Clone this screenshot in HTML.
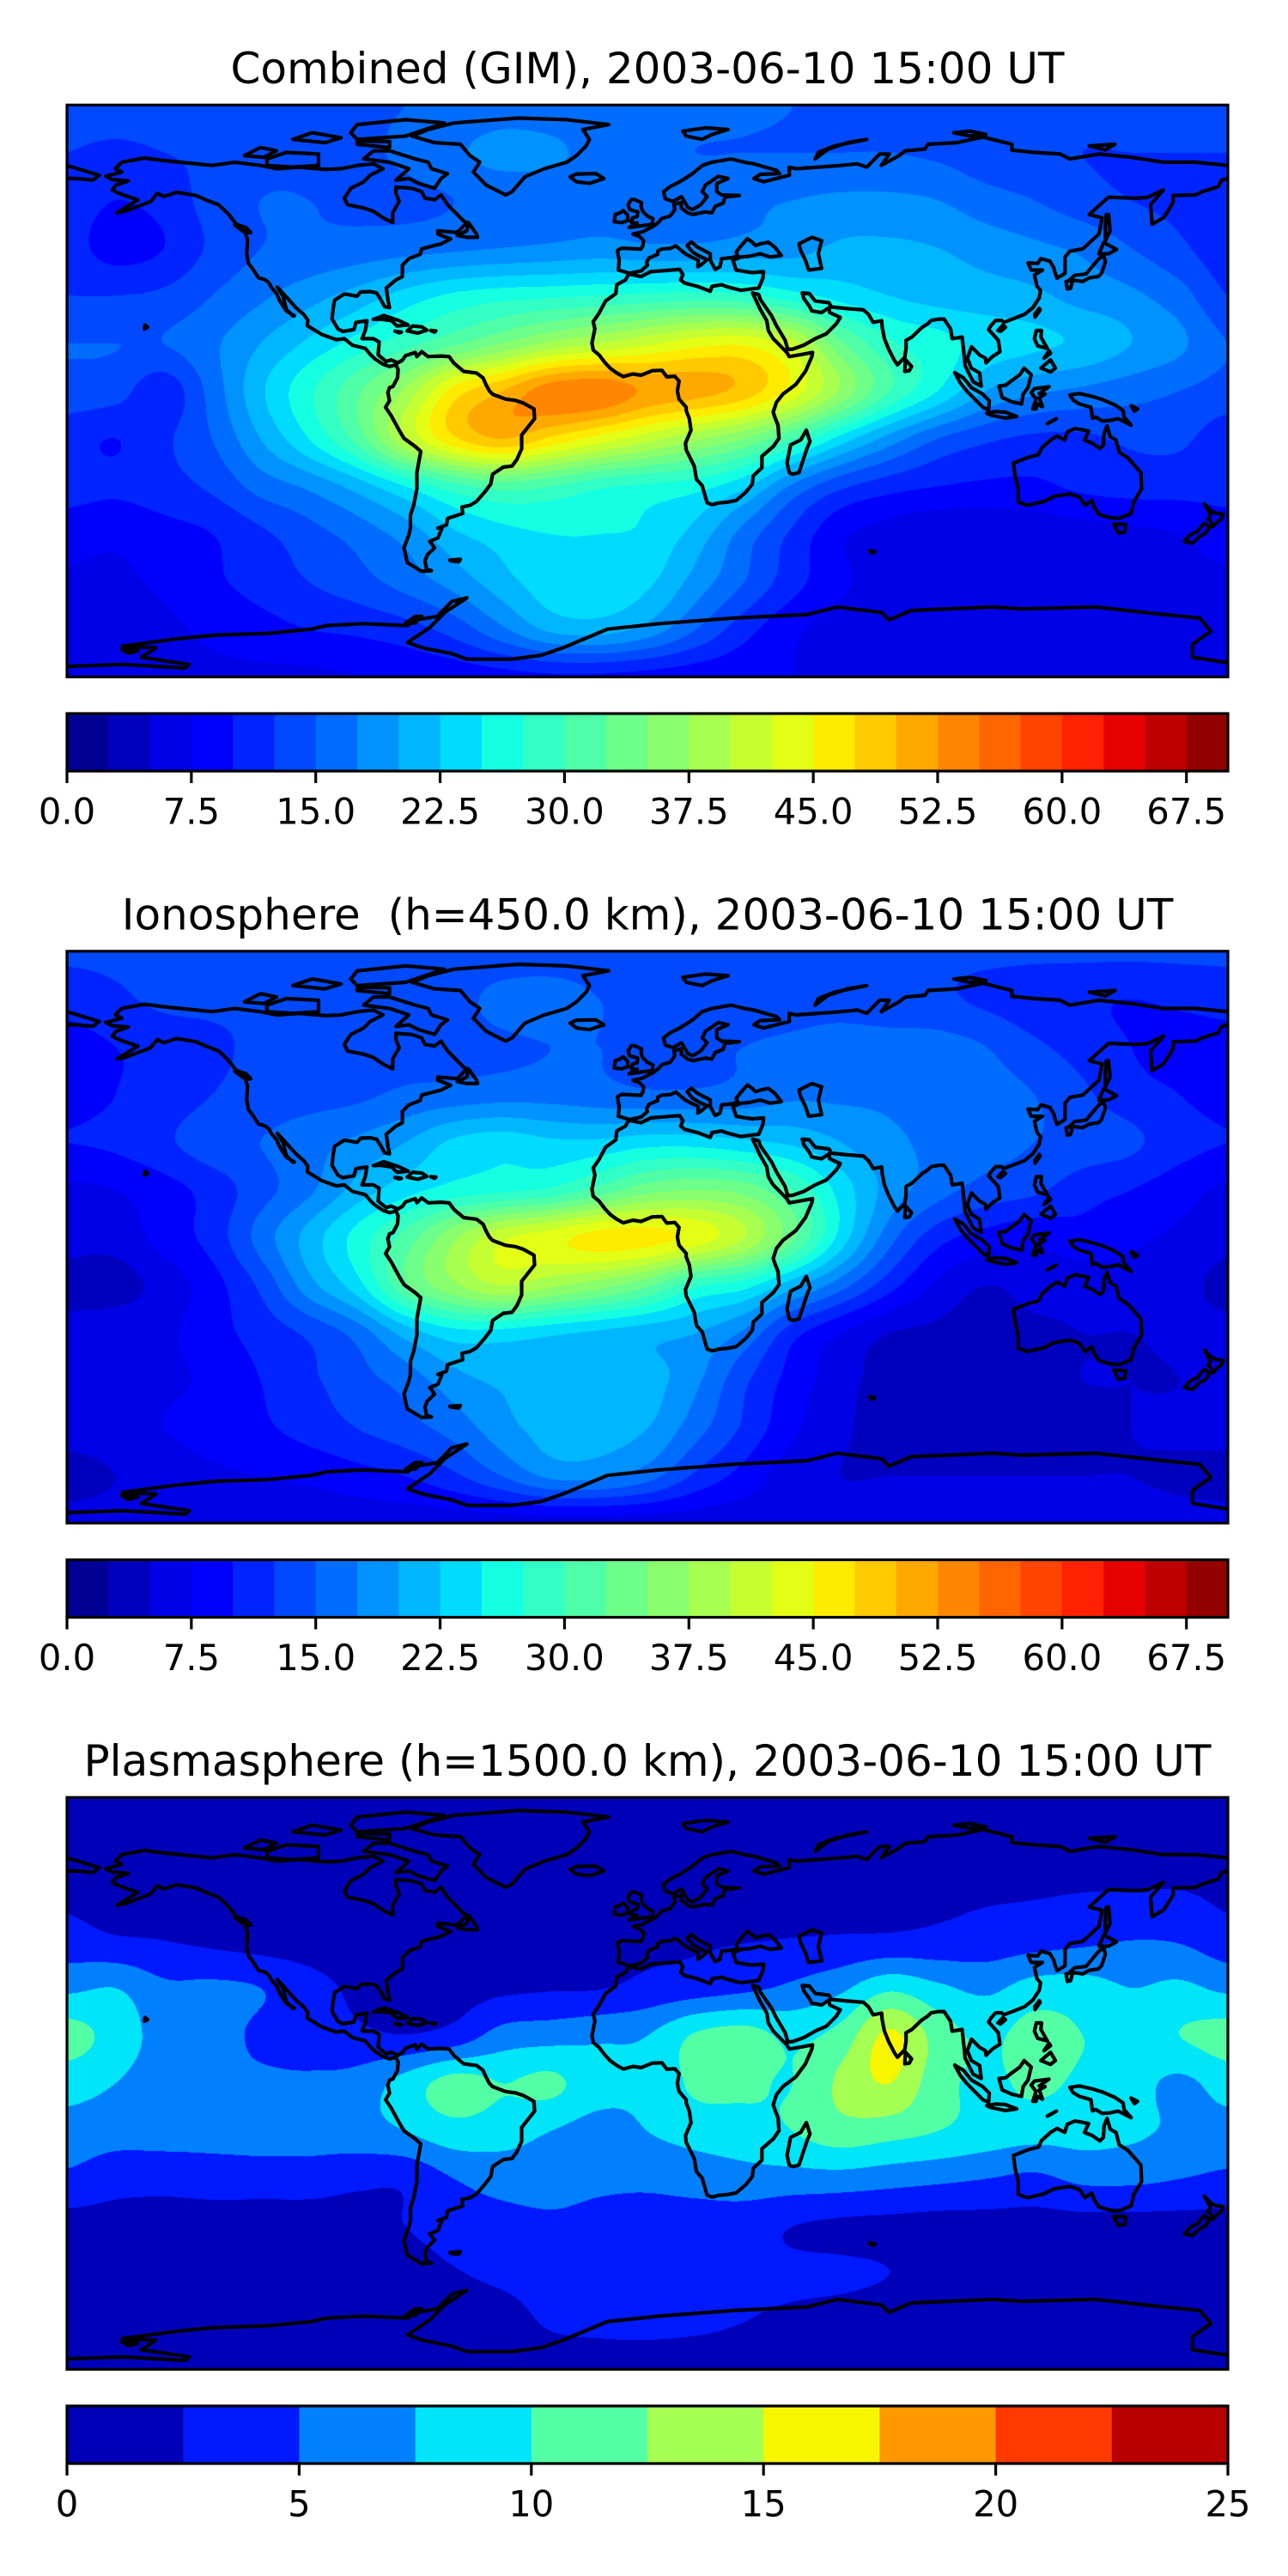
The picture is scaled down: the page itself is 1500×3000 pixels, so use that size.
<!DOCTYPE html>
<html><head><meta charset="utf-8">
<style>
html,body{margin:0;padding:0;background:#fff;}
body{width:1500px;height:3000px;position:relative;overflow:hidden;font-family:"DejaVu Sans","Liberation Sans",sans-serif;}
canvas{position:absolute;}
#overlay{position:absolute;left:0;top:0;}
</style></head>
<body>
<canvas id="c0" width="1352" height="666" style="left:78px;top:122.3px"></canvas>
<canvas id="c1" width="1352" height="666" style="left:78px;top:1107.8px"></canvas>
<canvas id="c2" width="1352" height="666" style="left:78px;top:2093.3px"></canvas>
<svg id="overlay" width="1500" height="3000" xmlns="http://www.w3.org/2000/svg"></svg>
<script>
// ---------- data ----------
const gridLons=[-180,-165,-150,-135,-120,-105,-90,-75,-60,-45,-30,-15,0,15,30,45,60,75,90,105,120,135,150,165,180];
const gridLats=[87.5,72.9,58.3,43.8,29.2,14.6,0,-14.6,-29.2,-43.8,-58.3,-72.9,-87.5];
const gimValues=[
[13.5,13.5,13.5,13.5,13.5,14,14.5,15,15.5,16,16,16,16,16,15.5,15,14.5,14,13.5,13.5,13.5,13.5,13.5,13.5,13.5],
[12.5,12,12.5,13,14,14.5,14.5,15.5,17,18.5,18,16.5,15.5,15,15,15,15,15,14.5,13.5,13,12.5,12.5,12.5,12.5],
[11.5,10,11,13.5,15,15,14.5,14.5,15,15.5,16,16.5,16,16.5,17,17.5,18,18,17.5,16,15,13.5,12.5,12,11.5],
[11,9,10,13,15,15.5,16,16.5,17,17.5,18,18.5,18,18,18.5,19,20.5,20.5,20,19,18,17,15,13,11],
[12.5,12.5,13,15,17,19,21,23.5,25.5,26.5,27,27.5,28,28.5,28,26,24,22.5,21.5,21,20.5,19,18,16,12.5],
[15,15,15,17,20,23,26,29,32,35,38,40,42,44,44.5,41,33,28,26,24,23,22,20,18,15],
[14,13.5,11,16,22,27,32,38,46,50,54,54.5,52,51,49,44,37,30,25,20,18,17,16,15,14],
[11,10,12,15,20,25,31,40,47,50,47,44,41,38,35,30,24,19,15,13,12,12,13,13,11],
[11,10.5,11.5,13,16,18,21,25,29,31,30,28,27,26,23,17,13,11,10,9.5,9.5,10.5,11,11,11],
[8.5,8,9,10,12,14,16,18.5,22,24,25,25,24.5,21.5,16.5,12,8,6.5,5.5,5.5,6,6.5,7,7.5,8.5],
[7,7,8,9.5,11,12.5,14,16,18.5,21.5,24,24.5,23,19,15,11,8,6.5,6,6,6.5,7,7,7,7],
[5.5,6,7,8,9,10,10.5,11.5,13.5,17,20.5,21,19,15,11,8,6.5,6,6,6,6,6,6,5.5,5.5],
[7,7,7,7,7,7,7.5,8,8.5,9,9.5,9.5,9,8.5,8,7.5,7,6.5,6.5,6.5,6.5,6.5,6.5,6.5,7]];
const ionoValues=[
[13,13,13,13,13,13,13,13,13,13,13,13,13,13,13,13,13,13,13,13,13,13,13,13,13],
[11,12,13,13,13,14,14,14,14,16,16.5,15,14,14,14,14,14,13.5,13,12,11,10.5,10,10.5,11],
[9,10,11,12,13,13.5,14,14,14,14.5,15,15,14,14.5,15,15.5,16,16,16,15,13,11.5,10,9,9],
[9,10,11,12.5,13.5,14,14.5,15.5,16,16.5,16.5,16,15.5,15.5,16,17,17,17,16.5,16,15,13,11,10,9],
[10,10.5,12,14,15,16.5,18,20,23,24,23,23,24,24,23,22,20,18,17,16,15,14,13,11,10],
[7,7.5,9,11,14,17,21,24,26,27,28,31,34,35,34,30,24,19,16,14,13,11,10,8.5,7],
[6,6,8.5,11,16,21,26,31,37,42,44,46,46,44,40,33,24,16,11,9,8,9,8,7,6],
[4,4,6,9,13,19,24,32,37,40,38,36,33,28,26,21,16,11,7,5,6,6,6.5,6,4],
[6,6.5,7,9,11,13,16,21,24,24,23,22,21,20,17,11,7.5,5,4.5,4,4.5,5,5,5.5,6],
[6,6,7,8,10,12,14,16,19,20.5,21,21,21,18,13,9,6,4,4,4.5,4.5,5,5,5,6],
[6,6.5,7.5,8.5,9.5,11,12.5,14,16,19,21,21,20,16,12,8,5.5,4,4,4,4.5,4.5,5,5.5,6],
[4,5,6,7,7.5,8,9,10,12,15,18,18,16,12,9,6,5,5,5,5,5,5,5,4.5,4],
[6,6,6,6,6,6,6,6,6,6,6,6,6,6,6,6,6,6,6,6,6,6,6,6,6]];
const plasmaValues=[
[1,1,1,1,1,1,1,1,1,1,1,1,1,1,1,1,1,1,1,1,1,1,1,1,1],
[1.2,1.2,1.2,1.2,1.2,1.2,1.2,1.2,1.2,1.2,1.2,1.2,1.2,1.2,1.2,1.2,1.2,1.2,1.2,1.2,1.2,1.2,1.2,1.2,1.2],
[2,1.5,1.3,1.2,1.2,1.2,1.2,1.2,1.2,1.2,1.2,1.2,1.2,1.2,1.3,1.5,1.7,1.8,2,2.2,2.3,2.5,2.6,2.6,2],
[3.5,2.8,2.5,2,1.5,1.2,1,1,1,1.2,1.5,1.8,2,2.2,2.4,2.6,2.8,3,3.2,3.5,4,4.5,5,4.8,3.5],
[7,7.5,5.5,5.5,5,3.5,2,1.5,1.5,2,2.3,2.4,3.2,3.8,4.5,5.5,7,9.5,8,7,8.5,8.5,7.5,8,7],
[11,9,6.5,6,4.5,3.5,3,2.6,3.5,6,6.5,7,7.5,10.3,11,9.5,11,15.5,11.5,9.5,11,10,9,10,11],
[8.5,7.5,6,5.5,5.5,5.5,6,8.5,11,10,10.5,8.5,8,10.5,10.5,10,13,15,11,9.5,10.5,9.5,8.5,7,8.5],
[6.5,6,6,6,6.3,6.3,6.5,7.5,9,8.5,7.5,6.5,7.5,8.5,9,10,11.5,11,10,9,8.5,8.5,8,7,6.5],
[4.5,3.5,3.3,3.5,3.5,3.5,3,3,5,6,6,5.5,5.5,6,6.5,6.5,6.5,6,5.5,5,4.5,5.5,5.5,5,4.5],
[1.5,1.5,1.5,1.5,1.5,1.5,1.8,2.5,3.5,4,4.5,4.2,4,3.8,3.5,2.5,2,1.8,1.5,1.5,1.5,1.5,1.5,1.5,1.5],
[1.2,1.2,1.2,1.2,1.2,1.2,1.2,1.5,2.3,3,3.5,3.5,3.4,3.2,3,3,3,2.5,1.5,1.2,1.2,1.2,1.2,1.2,1.2],
[1,1,1,1,1,1,1,1,1,1.5,2.8,3.2,3.3,3,2.5,2,1.5,1,1,1,1,1,1,1,1],
[1,1,1,1,1,1,1,1,1,1,1,1,1,1,1,1,1,1,1,1,1,1,1,1,1]];
const tecLevels=[0,2.5,5,7.5,10,12.5,15,17.5,20,22.5,25,27.5,30,32.5,35,37.5,40,42.5,45,47.5,50,52.5,55,57.5,60,62.5,65,67.5,70];
const plasmaLevels=[0,2.5,5,7.5,10,12.5,15,17.5,20,22.5,25];
const tecTicks=[0,7.5,15,22.5,30,37.5,45,52.5,60,67.5];
const tecTickLabels=["0.0","7.5","15.0","22.5","30.0","37.5","45.0","52.5","60.0","67.5"];
const plasmaTicks=[0,5,10,15,20,25];
const plasmaTickLabels=["0","5","10","15","20","25"];
const titles=["Combined (GIM), 2003-06-10 15:00 UT","Ionosphere  (h=450.0 km), 2003-06-10 15:00 UT","Plasmasphere (h=1500.0 km), 2003-06-10 15:00 UT"];

// coastlines (lon,lat)
const coasts=[
[[-165,68],[-163,70],[-156,71.3],[-150,70.5],[-141,69.6],[-135,69],[-128,70],[-120,69],[-115,68],[-108,68.5],[-100,67.8],[-95,68],[-90,69],[-85,69.5],[-82,68],[-86,66],[-88,64],[-92,62],[-94,59],[-93,57],[-88,56],[-85,55],[-82,53],[-79,51.5],[-79,54.5],[-77,58],[-78,60.5],[-78,62.4],[-73,62],[-70,61],[-69,59],[-66,58.5],[-64,60],[-62,57],[-60,55],[-57,52],[-56,51.5],[-59,48.5],[-65,49],[-65,48],[-61,46.5],[-64,45],[-66,44.5],[-70,43.5],[-70.5,41.8],[-74,40.5],[-76,38.5],[-76,35],[-78,34],[-81,31.5],[-80.5,28],[-80,25.5],[-81.5,25.8],[-82.7,28],[-84,30],[-86,30.4],[-89,30.3],[-90,29],[-94,29.7],[-97,27.8],[-97.5,25],[-97.8,22],[-96,19],[-94.5,18.2],[-91,18.8],[-90.4,21],[-87,21.5],[-87.5,18.5],[-88.5,16],[-85,16],[-83.2,15],[-83.5,11],[-81,9],[-79.5,9.5],[-77.4,8.6],[-76,9.4],[-75,10.8],[-72,11.8],[-71.5,10.5],[-70,12],[-68,10.5],[-64,10.7],[-61.5,10.5],[-60,8.5],[-57,6],[-53,5.5],[-51,4],[-50,1.8],[-49,0],[-48,-1],[-44,-2.5],[-41,-2.9],[-38.5,-3.7],[-35.2,-5.5],[-35,-8.5],[-37,-11],[-39,-13.5],[-39,-17.7],[-40.5,-21],[-42,-23],[-44.7,-23.3],[-48,-25.5],[-48.6,-28.5],[-50.5,-31],[-53,-33.8],[-55,-35],[-57.5,-35.5],[-57.3,-37.5],[-62,-39],[-62.3,-41],[-65,-42],[-63.8,-42.2],[-65,-45],[-67.5,-46],[-66,-48],[-68.3,-50.2],[-69,-52],[-68.5,-54.5],[-67,-55],[-70,-55.2],[-72,-54],[-74.5,-52.5],[-75.5,-48],[-74,-44],[-73.5,-42],[-73.5,-38],[-72.5,-35],[-71.5,-30],[-71.5,-25],[-70.3,-18.5],[-72,-17],[-75.5,-14.5],[-77,-12],[-79.5,-7.5],[-81.2,-5],[-80,-3],[-80.5,-0.5],[-80,1],[-78.9,1.4],[-77.5,4],[-77.3,6.5],[-78,8],[-80,7.5],[-82,8.2],[-84.5,9.8],[-85.8,11],[-87.5,13],[-91.5,14],[-94,16],[-96.5,15.7],[-101,17.3],[-105.5,20],[-105.3,21.7],[-106.5,23.3],[-109,25.5],[-112.2,29],[-114.8,31.8],[-113,29],[-112,25],[-110,23],[-109.5,23],[-112,24.5],[-114,27.5],[-115,29.8],[-116.7,31.8],[-117.3,33],[-118.5,34],[-120.6,34.6],[-122.5,37.5],[-123.7,39],[-124.3,42],[-124,46.2],[-124.7,48.4],[-123,48.5],[-124.5,50],[-127.5,51],[-130,54.2],[-133,57],[-137,58.5],[-140,59.8],[-146,60.8],[-150,59.5],[-152,60.5],[-154,58],[-158,56.5],[-162,55],[-164.5,54.5],[-158,58.5],[-162,59.8],[-164.5,60.7],[-166,61.5],[-164.8,63],[-161,64.3],[-166,64.7],[-168,65.7],[-163,67],[-165,68]],
[[-80,73.5],[-72,71],[-68,70],[-67,68],[-62,66.5],[-64,65],[-66,62],[-71,63.5],[-74,65],[-78,64.5],[-74,68],[-80,70],[-88,71],[-85,73.5],[-80,73.5]],
[[-118,71],[-112,73],[-102,72.5],[-102,69],[-110,68.5],[-118,69],[-118,71]],
[[-90,77],[-75,78],[-63,82],[-75,83],[-90,81.5],[-92,79],[-90,77]],
[[-125,72],[-120,74.5],[-115,73.5],[-119,71.5],[-125,72]],
[[-90,75.5],[-80,74.5],[-80,76.3],[-90,76.5],[-90,75.5]],
[[-100,76],[-95,77.5],[-104,79],[-110,77],[-100,76]],
[[-59,47.6],[-56,49],[-55.5,51.5],[-53,48],[-52.7,47],[-56,47],[-59,47.6]],
[[-73,78],[-66,76],[-58,75.5],[-55,72],[-52,70],[-54,67],[-50,63],[-44,60],[-42,61],[-38,65.5],[-32,68],[-25,70],[-22,72],[-19,75],[-18,77],[-20,80],[-12,81.5],[-25,83],[-40,83.5],[-60,82],[-68,80],[-73,78]],
[[-22,64],[-24,65.5],[-22,66.4],[-16,66.5],[-13.5,65],[-18,63.5],[-22,64]],
[[12,78],[17,77],[20,78.5],[25,80],[18,80.5],[11,79.5],[12,78]],
[[52,71],[56,74],[62,76],[68,77],[58,75],[53,73],[52,71]],
[[95,79],[100,79.5],[105,78.5],[100,78],[95,79]],
[[137,75],[145,75.5],[142,73.8],[137,75]],
[[-5.6,36],[-9,37],[-8.8,40],[-9.3,43],[-8,43.7],[-2,43.4],[-1.4,44.5],[-1.2,46],[-2.5,47.3],[-4.5,48],[-1.5,48.7],[0,49.5],[1.5,50.2],[3,51.2],[4.5,52.8],[7,53.5],[8.5,55.5],[8.2,57],[10.5,57.7],[10.5,56],[12.5,54.5],[14,54],[18,54.8],[20,54.5],[21,56.5],[23.5,57.5],[24,59.3],[28.5,59.8],[23,60],[21.5,61],[21.5,63.5],[25,65],[22,65.7],[18,63],[17,61],[18.5,59.5],[16.5,57],[14,55.5],[12.5,56.2],[11,58.8],[10.5,59.5],[8,58],[5.5,58.8],[5,61],[7,62.5],[10,64],[14,66.5],[17,69],[20,70],[26,71],[30,70],[33,69.5],[40,67.5],[41,66.5],[35,66.3],[33,65],[36,64],[38,64.5],[44,66],[44,68.5],[46,68],[53,68.5],[60,69],[65,69.5],[68,68.5],[72,72.5],[75,72.5],[72.5,69],[78,72],[80,73.5],[86,74],[87,75.5],[96,76],[104,77.7],[113,75.5],[113,73.7],[120,73],[128,72.5],[131,71],[140,72.5],[150,71.5],[160,70],[170,70],[180,69],[185,67.5],[190,66],[188,64.5],[183,65],[180,65],[178,64.5],[177,62.5],[172,61],[170,60],[163,59.8],[163,57.8],[162,56],[160,53],[156.5,51],[156,57],[160,61.5],[155,59.2],[151,59],[143,59.3],[137,54],[141,53],[140,48],[135,43.5],[131,42.8],[129.5,41],[129.5,36],[127,34.5],[126.3,36.5],[126,37.7],[124.8,39.7],[122,40.5],[121,39],[118,39.2],[119,37],[122.5,37],[120,35.5],[120.8,32],[121.9,30.8],[121.5,28.5],[119.5,25.5],[117,23.5],[114,22.3],[110.5,21],[109.8,21.6],[108,21.6],[106.5,20],[105.8,18.8],[108.8,15.5],[109.3,12],[107,10.5],[105,8.6],[104.8,10],[103,11],[100.5,13.5],[99.2,10],[100.4,7],[103,5.5],[103.5,1.5],[101,2.8],[98.5,7.8],[98.3,10],[97.6,16.5],[94.5,16],[94,19],[92,22],[90.5,22],[88,21.6],[86.8,20.5],[85,19.3],[82,16.5],[80.2,15.5],[80.2,13],[79.8,10.3],[77.5,8],[76.5,9.5],[74.8,12.8],[73.5,16],[72.8,19.5],[72.6,21.5],[70,21],[68.5,23.5],[67,24.8],[62,25.2],[57,25.7],[56.3,27],[52,27.5],[50.2,29.8],[48,30],[48.5,28.3],[50.2,26],[51,24.5],[54,24],[56.3,25.5],[56.5,24],[59.8,22.5],[58.5,20.5],[55.5,17.5],[52,16],[48.5,14],[45,12.8],[43.5,12.7],[42.7,15.5],[40,20],[38.5,23],[35,28],[34.5,29.5],[32.6,30],[35,25],[37,21.5],[37.5,18.5],[39,16],[42,13],[43.3,11.7],[44,10.5],[48,11.2],[51.2,11.8],[51,10.5],[49,6],[46,2],[42,-1],[40,-3.5],[39,-6.5],[39.5,-8],[40.5,-10.5],[40.8,-14.5],[39,-17],[35.5,-20],[35.5,-23.5],[32.8,-26],[32.5,-28.5],[30.5,-31],[27.5,-33.5],[25,-34],[22,-34.3],[20,-34.8],[18.5,-34.2],[18,-32.5],[17,-29],[15.2,-27],[14.5,-23],[12,-18],[11.8,-16],[13.5,-12],[13,-8.5],[12,-6],[12,-5],[9.8,-2.5],[9.3,0],[9.8,3],[8.5,4.5],[6,4.3],[4.5,6.3],[1.5,6.2],[-2,4.8],[-4.5,5.2],[-7.5,4.4],[-9.5,5.5],[-11.5,6.9],[-13.2,8.7],[-15,11],[-16.8,12.5],[-17.2,14.7],[-16.3,19],[-16.8,21.2],[-15,23.8],[-13,27.5],[-9.8,29.8],[-9.5,32.5],[-6.8,34],[-5.8,35.8],[-2,35],[1,36.5],[5,36.8],[10,37.2],[11,35.6],[10.3,34],[11.5,33],[15.5,32],[19.5,30.5],[20,32],[23,32.5],[25,31.8],[29,30.8],[32,31.2],[34.5,31.5],[35.8,34.5],[36,36.5],[32.5,36.2],[30.5,36.5],[27.5,37],[26.5,40],[29,41],[31.5,41.2],[35,42],[38,41],[41.5,41.5],[39.5,44],[37.5,45.5],[35.3,45.1],[33.5,44.5],[32.5,45.5],[31,46.6],[30,45.5],[28.7,44],[27.5,42.5],[28,41.4],[26.3,40.8],[23,40.5],[22.5,38],[21,37.2],[19.5,40],[19.5,42],[15.5,44],[13.6,45.6],[12.3,44.5],[14,42.5],[16,41.3],[18.5,40.2],[16.5,38.5],[15.6,38],[15.8,40],[14,40.8],[12,41.8],[10.5,43],[8.8,44.4],[7,43.6],[4.5,43.5],[3.2,42.8],[3.2,41.8],[0.5,40.7],[-0.3,39.3],[0,38.5],[-2,36.7],[-5.6,36]],
[[47,45],[51,47],[54,46],[53,42],[54,37.5],[50,37],[49,40],[47.5,43],[47,45]],
[[-5.7,50],[1.5,51],[1.7,52.7],[0,53.5],[-1.5,55],[-2,56.5],[-1.8,57.6],[-4,58.6],[-5,58.6],[-6,57],[-5.5,55.5],[-3,54.8],[-3.2,53.4],[-4.6,53],[-5,51.6],[-3.2,51.4],[-5.7,50]],
[[-6,52.2],[-6.2,53.9],[-7.5,55.2],[-8.5,54.5],[-10,54],[-10.3,51.8],[-8,51.5],[-6,52.2]],
[[130.9,34],[132.5,35.4],[136,35.8],[137,37],[140,40.5],[141.5,41.4],[142,39.5],[140.8,36],[139.8,35],[137,34.6],[135,33.5],[132,33.9],[130.9,34]],
[[140,42],[141.5,45.4],[145.5,43.3],[143,42],[140,42]],
[[129.8,33.5],[131.9,33.9],[131.2,31.4],[130.2,31.2],[129.8,33.5]],
[[142,46],[143.5,49],[143,54],[142.3,54],[142,50],[142,46]],
[[120.2,22.6],[121.8,24.8],[121.5,25.3],[120.1,23.5],[120.2,22.6]],
[[108.7,18.5],[110.2,20.1],[111,19.5],[109.5,18.2],[108.7,18.5]],
[[120,16],[120.6,18.5],[122.2,18.5],[122,16.5],[124,13],[121,13.8],[120,16]],
[[122,7],[125,9.5],[126.5,7],[125,5.8],[122,7]],
[[123,10],[125,11.5],[124.5,12.3],[123,10]],
[[109,1.5],[110,-2],[113,-3.3],[116,-4],[116.5,-1],[118,1],[119,5],[116.8,7],[115.5,5],[113,3.2],[111,1.7],[109,1.5]],
[[95.3,5.6],[98,4],[100.5,1],[104,-1],[106,-3],[105.8,-5.8],[104,-5],[101.5,-2.5],[99,0],[97,2.5],[95.3,5.6]],
[[105.2,-6.8],[108,-6.3],[111,-6.5],[114.5,-7.8],[111,-8.3],[106.5,-7.4],[105.2,-6.8]],
[[119.5,-5.5],[120.5,-2.5],[119,-0.5],[120,0.7],[124.5,1.3],[121.5,-0.8],[123.3,-1],[121.5,-2],[122.5,-4.8],[121,-4],[120.5,-5.5],[119.5,-5.5]],
[[131,-1.2],[134,-0.8],[138,-1.7],[141,-2.6],[145,-4.3],[147.5,-6],[147.8,-8],[150,-10.5],[146,-8.5],[143.5,-9],[141,-9.2],[139,-8],[138,-8.4],[137.5,-5],[134,-4],[132,-2.8],[131,-1.2]],
[[124,-10],[126.8,-8.5],[125,-9.5],[124,-10]],
[[150,-4.5],[152,-5.5],[151,-6.2],[150,-4.5]],
[[79.8,6],[80,9.6],[81.9,7.5],[81.2,6.2],[79.8,6]],
[[44,-25],[43.3,-22],[44.4,-16.5],[47.5,-15],[49.3,-12],[50.4,-15.5],[49.5,-17.5],[47,-25],[45,-25.5],[44,-25]],
[[113.5,-22],[114,-26],[115,-30],[115,-34],[117.8,-35],[123,-33.8],[126,-32.3],[131,-31.5],[134,-32.5],[135.7,-35],[137.8,-33.5],[138.5,-35.5],[140,-37.8],[143.5,-38.8],[146.3,-39],[150,-37.5],[150.8,-34],[153.2,-30],[153,-25],[150.8,-22.5],[149,-20.5],[146.3,-18.8],[145.3,-15],[143.5,-14],[142.5,-10.7],[141.6,-13],[141.4,-16.5],[140.3,-17.6],[138,-16],[135.5,-15],[136.8,-12.3],[132.6,-11.5],[130.2,-12.5],[129.4,-15],[127,-13.8],[125,-15],[122.2,-17.5],[121.3,-19.5],[118,-20.3],[114.2,-21.8],[113.5,-22]],
[[144.6,-40.7],[148.2,-40.8],[148,-43.2],[146,-43.5],[144.6,-40.7]],
[[172.7,-34.5],[174.5,-36.5],[175.9,-37.3],[178.5,-37.7],[177.9,-39.2],[176.8,-40],[175.2,-41.6],[174.6,-39.8],[173.8,-39.2],[174.6,-38],[172.7,-34.5]],
[[172.7,-40.5],[174.3,-41.7],[173,-43.6],[171.2,-44.5],[169,-46.6],[166.5,-46],[168.3,-44],[170.6,-42.9],[172.1,-41],[172.7,-40.5]],
[[-85,21.9],[-81.8,23.1],[-77.2,21.6],[-74.2,20.2],[-77.7,19.9],[-79.3,21.5],[-83,22],[-85,21.9]],
[[-74.5,18.4],[-72.8,19.9],[-69.9,19.6],[-68.4,18.6],[-71.2,17.7],[-74.5,18.4]],
[[-78.3,18.3],[-76.3,18],[-77,17.8],[-78.3,18.3]],
[[-67.2,18.5],[-65.6,18.4],[-66,18],[-67.2,18.5]],
[[-156,19],[-155,19.5],[-155.8,20.2],[-156,19]],
[[-128,50.8],[-125,50],[-123.5,48.4],[-125.5,48.9],[-128,50.8]],
[[-61.3,-51.8],[-58,-51.5],[-58.5,-52.3],[-61,-52],[-61.3,-51.8]],
[[69,-48.8],[70.5,-49.2],[69.5,-49.6],[69,-48.8]],
[[-180,-84.3],[-162.8,-83.7],[-143.3,-84.8],[-142.1,-83.7],[-157,-81.5],[-152.4,-78.6],[-162.8,-78.1],[-154.7,-77],[-145.6,-75.8],[-134,-74.7],[-118,-74.2],[-104.2,-72.9],[-99.6,-71.8],[-88.2,-71.2],[-74.4,-71.8],[-72.1,-70.1],[-65.2,-69],[-60.6,-64.4],[-56,-63.3],[-62.9,-67.8],[-67.5,-72.4],[-74.4,-77],[-69.8,-78.6],[-60.6,-80.4],[-56,-82.1],[-42.2,-82.1],[-33,-80.9],[-26.2,-78.6],[-12.4,-72.9],[3.7,-71.2],[26.6,-69.5],[49.6,-68.4],[58.8,-66.1],[72.6,-67.8],[74.9,-70.1],[81.7,-67.2],[107,-66.1],[116.2,-66.7],[139.1,-66.1],[159.8,-68.4],[171.3,-69.5],[174.7,-73.5],[169,-77.5],[169,-81.5],[180,-83.2]],
[[-70,-69],[-72,-71],[-75,-71],[-72,-69],[-70,-69]],
[[-163,-79],[-158,-79.5],[-161,-80.3],[-163,-79]]
];

// ---------- geometry ----------
const MAP_X=78, MAP_W=1352, MAP_H=666, MAP_TOP0=122.3, PANEL_STEP=985.5;
const LAT_MAX=87.5, LAT_SPAN=175;
const CB_TOP0=831, CB_H=67;
function xLon(lon){return (lon+180)/360*MAP_W;}
function yLat(lat){return (LAT_MAX-lat)/LAT_SPAN*MAP_H;}

function interp(pts,x){for(let i=1;i<pts.length;i++){if(x<=pts[i][0]){const a=pts[i-1],b=pts[i];return a[1]+(b[1]-a[1])*(x-a[0])/(b[0]-a[0]);}}return pts[pts.length-1][1];}
const JR=[[0,0],[0.35,0],[0.66,1],[0.89,1],[1,0.5]];
const JG=[[0,0],[0.125,0],[0.375,1],[0.64,1],[0.91,0],[1,0]];
const JB=[[0,0.5],[0.11,1],[0.34,1],[0.65,0],[1,0]];
function jet(x){return [Math.round(255*interp(JR,x)),Math.round(255*interp(JG,x)),Math.round(255*interp(JB,x))];}
function binColors(levels){const n=levels.length-1;const out=[];for(let i=0;i<n;i++)out.push(jet((i+0.5)/n));return out;}

function cr(p0,p1,p2,p3,t){return 0.5*((2*p1)+(-p0+p2)*t+(2*p0-5*p1+4*p2-p3)*t*t+(-p0+3*p1-3*p2+p3)*t*t*t);}
function sampleGrid(g,fx,fy){
  const R=g.length,C=g[0].length;
  const ix=Math.floor(fx),iy=Math.floor(fy),tx=fx-ix,ty=fy-iy;
  const rows=[];
  for(let j=-1;j<=2;j++){
    const r=g[Math.min(R-1,Math.max(0,iy+j))];
    const v=[];for(let i=-1;i<=2;i++)v.push(r[Math.min(C-1,Math.max(0,ix+i))]);
    rows.push(cr(v[0],v[1],v[2],v[3],tx));
  }
  return cr(rows[0],rows[1],rows[2],rows[3],ty);
}
function drawField(canvasId,grid,levels){
  const cv=document.getElementById(canvasId);const ctx=cv.getContext('2d');
  const img=ctx.createImageData(MAP_W,MAP_H);const cols=binColors(levels);
  const lo=levels[0],step=levels[1]-levels[0],n=levels.length-1;
  const lonMin=gridLons[0],lonStep=gridLons[1]-gridLons[0];
  const latMax=gridLats[0],latStep=gridLats[0]-gridLats[1];
  for(let py=0;py<MAP_H;py++){
    const lat=LAT_MAX-(py+0.5)/MAP_H*LAT_SPAN;const fy=(latMax-lat)/latStep;
    for(let px=0;px<MAP_W;px++){
      const lon=(px+0.5)/MAP_W*360-180;const fx=(lon-lonMin)/lonStep;
      const v=sampleGrid(grid,fx,fy);
      let b=Math.floor((v-lo)/step);if(b<0)b=0;if(b>n-1)b=n-1;
      const c=cols[b];const k=(py*MAP_W+px)*4;
      img.data[k]=c[0];img.data[k+1]=c[1];img.data[k+2]=c[2];img.data[k+3]=255;
    }
  }
  ctx.putImageData(img,0,0);
}
drawField('c0',gimValues,tecLevels);
drawField('c1',ionoValues,tecLevels);
drawField('c2',plasmaValues,plasmaLevels);

// ---------- SVG overlay ----------
const NS='http://www.w3.org/2000/svg';
const svg=document.getElementById('overlay');
function mk(tag,attrs,parent){const e=document.createElementNS(NS,tag);for(const k in attrs)e.setAttribute(k,attrs[k]);(parent||svg).appendChild(e);return e;}
const panelNames=['gim','ionosphere','plasmasphere'];
for(let p=0;p<3;p++){
  const off=p*PANEL_STEP;const top=MAP_TOP0+off;
  const g=mk('g',{});
  
  
  const t=mk('text',{x:754,y:97+off,'text-anchor':'middle','font-size':'50','font-family':'DejaVu Sans, Liberation Sans, sans-serif',fill:'#000'},g);
  t.setAttribute('style','white-space:pre');
  t.setAttribute('xml:space','preserve');
  t.textContent=titles[p];
  
  
  const ms=mk('svg',{x:MAP_X,y:top,width:MAP_W,height:MAP_H,viewBox:'0 0 '+MAP_W+' '+MAP_H,overflow:'hidden'},g);
  
  
  coasts.forEach(function(line){
    [0,-360].forEach(function(shift){
      if(shift!==0 && !line.some(function(q){return q[0]>180;}))return;
      const d=line.map(function(q,i){return (i?'L':'M')+xLon(q[0]+shift).toFixed(1)+' '+yLat(q[1]).toFixed(1);}).join('');
      const pth=mk('path',{d:d,fill:'none',stroke:'#000','stroke-width':'4.2','stroke-linejoin':'round','stroke-linecap':'round'},ms);
      
      
    });
  });
  const fr=mk('rect',{x:MAP_X,y:top,width:MAP_W,height:MAP_H,fill:'none',stroke:'#000','stroke-width':'3.2'},g);
  
  
  const levels=p<2?tecLevels:plasmaLevels;const ticks=p<2?tecTicks:plasmaTicks;const labels=p<2?tecTickLabels:plasmaTickLabels;
  const cols=binColors(levels);const cbTop=CB_TOP0+off;
  const vmin=levels[0],vmax=levels[levels.length-1];
  function cx(v){return MAP_X+(v-vmin)/(vmax-vmin)*MAP_W;}
  const cb=mk('g',{},g);
  
  
  for(let i=0;i<cols.length;i++){
    const x0=cx(levels[i]),x1=cx(levels[i+1]);
    const r=mk('rect',{x:x0.toFixed(2),y:cbTop,width:(x1-x0+0.6).toFixed(2),height:CB_H,fill:'rgb('+cols[i].join(',')+')'},cb);
    
    
  }
  mk('rect',{x:MAP_X,y:cbTop,width:MAP_W,height:CB_H,fill:'none',stroke:'#000','stroke-width':'3.2'},cb);
  for(let i=0;i<ticks.length;i++){
    const x=cx(ticks[i]);
    const tk=mk('line',{x1:x,x2:x,y1:cbTop+CB_H,y2:cbTop+CB_H+14,stroke:'#000','stroke-width':'3.2'},cb);
    
    
    const tl=mk('text',{x:x,y:959.5+off,'text-anchor':'middle','font-size':'41.7','font-family':'DejaVu Sans, Liberation Sans, sans-serif',fill:'#000'},cb);
    tl.textContent=labels[i];
    
    
  }
}
</script>
</body></html>
